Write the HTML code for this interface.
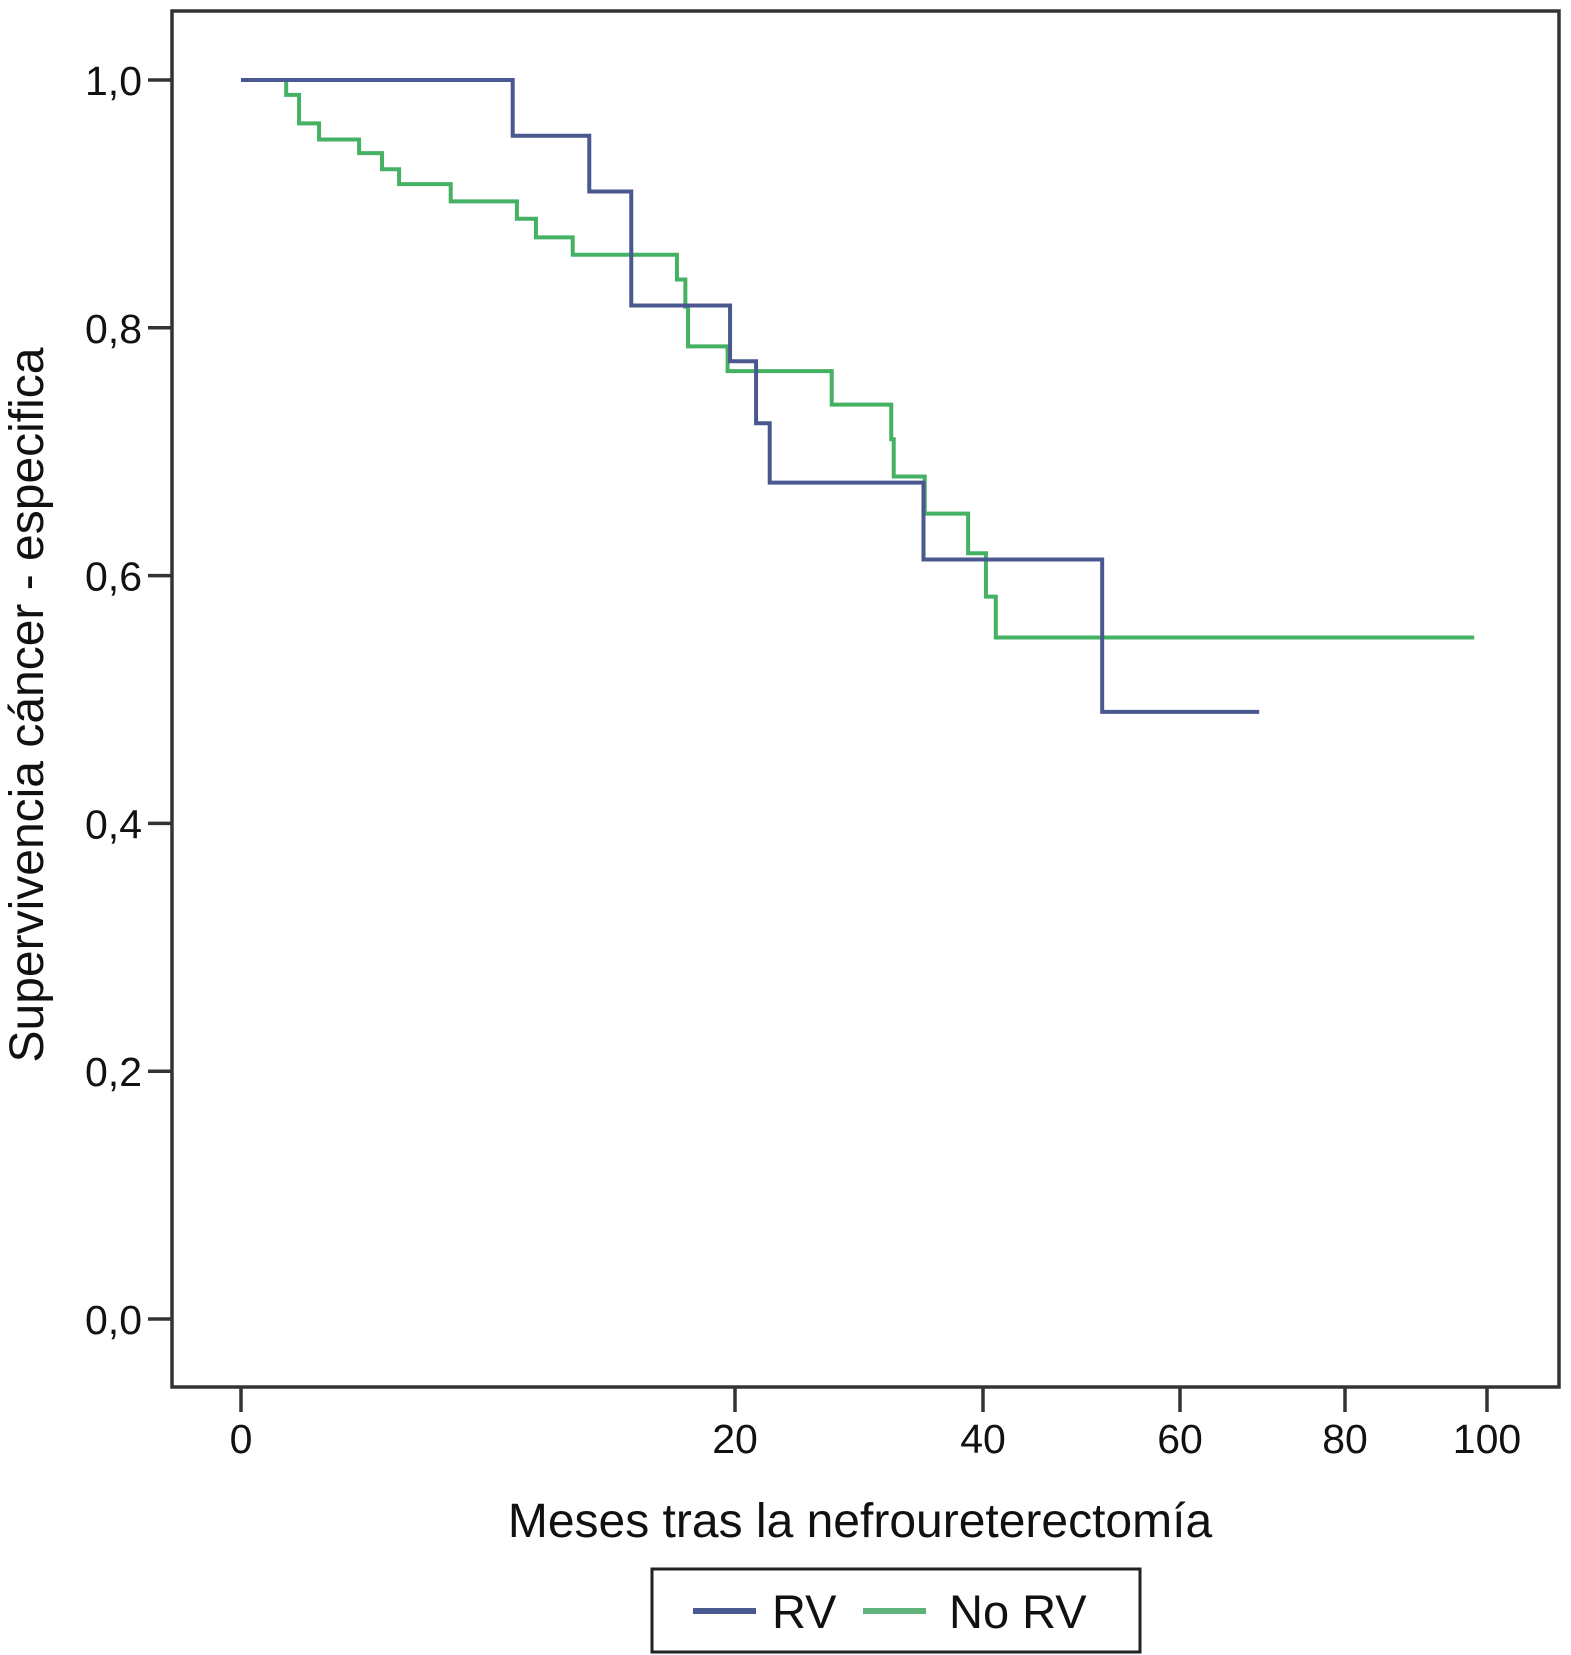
<!DOCTYPE html>
<html><head><meta charset="utf-8"><style>
html,body{margin:0;padding:0;background:#fff;}
svg{display:block;font-family:"Liberation Sans",sans-serif;}
</style></head><body>
<svg id="chart" width="1571" height="1655" viewBox="0 0 1571 1655">
<rect x="172" y="11" width="1387" height="1376" fill="#fff" stroke="#333" stroke-width="3.5"/>
<g id="yaxis"></g>
<g id="xaxis"></g>
<g id="series"></g>
<text x="43" y="705" font-size="48" text-anchor="middle" transform="rotate(-90 43 705)" fill="#111">Supervivencia cáncer - especifica</text>
<text x="860" y="1537" font-size="48" text-anchor="middle" fill="#111">Meses tras la nefroureterectomía</text>
<g>
<rect x="652" y="1569" width="488" height="83" fill="#fff" stroke="#222" stroke-width="3"/>
<line x1="693" y1="1611" x2="756" y2="1611" stroke="#4a5890" stroke-width="6"/>
<text x="772" y="1628" font-size="47" fill="#111">RV</text>
<line x1="863" y1="1611" x2="926" y2="1611" stroke="#5fb37a" stroke-width="6"/>
<text x="949" y="1628" font-size="47" fill="#111">No RV</text>
</g>
</svg>
<script>
const xTicks = [0, 20, 40, 60, 80, 100];
const yTicks = [0, 0.2, 0.4, 0.6, 0.8, 1.0];
const yTickLabels = ["0,0", "0,2", "0,4", "0,6", "0,8", "1,0"];
const rvTimes = [11.0, 14.1, 15.8, 19.8, 21.7, 22.8, 35.2, 52.1];
const rvValues = [0.955, 0.91, 0.818, 0.773, 0.723, 0.675, 0.613, 0.49];
const rvEnd = 69.6;
const noRvTimes = [1.83, 2.35, 3.16, 4.78, 5.71, 6.4, 8.49, 11.17, 11.94, 13.43, 17.65, 17.99, 18.1, 19.7, 27.8, 32.6, 32.8, 35.3, 38.8, 40.3, 41.3];
const noRvValues = [0.988, 0.965, 0.952, 0.941, 0.928, 0.916, 0.902, 0.888, 0.873, 0.859, 0.839, 0.817, 0.785, 0.765, 0.738, 0.71, 0.68, 0.65, 0.618, 0.583, 0.55];
const noRvEnd = 98.2;

const NS = "http://www.w3.org/2000/svg";
const xPix = [241, 735, 983, 1180, 1345, 1487];
function xs(t){
  for (let i = 0; i < xTicks.length - 1; i++) {
    if (t <= xTicks[i+1] || i === xTicks.length - 2) {
      return xPix[i] + (t - xTicks[i]) / (xTicks[i+1] - xTicks[i]) * (xPix[i+1] - xPix[i]);
    }
  }
}
function ys(v){ return 1319 - v * 1239; }
function mk(tag, attrs, parent){
  const e = document.createElementNS(NS, tag);
  for (const k in attrs) e.setAttribute(k, attrs[k]);
  parent.appendChild(e);
  return e;
}
const ya = document.getElementById('yaxis');
yTicks.forEach((v, i) => {
  const l = mk('line', {x1: 148, x2: 172, y1: ys(v), y2: ys(v), stroke: '#333', 'stroke-width': 3.5}, ya);
  
  
  const t = mk('text', {x: 142, y: ys(v) + 15, 'font-size': 41, 'text-anchor': 'end', fill: '#111'}, ya);
  t.textContent = yTickLabels[i];
  
  
});
const xa = document.getElementById('xaxis');
xTicks.forEach(v => {
  const l = mk('line', {x1: xs(v), x2: xs(v), y1: 1387, y2: 1412, stroke: '#333', 'stroke-width': 3.5}, xa);
  
  
  const t = mk('text', {x: xs(v), y: 1453, 'font-size': 41, 'text-anchor': 'middle', fill: '#111'}, xa);
  t.textContent = String(v);
  
  
});
function stepPath(times, values, end){
  let d = 'M' + xs(0) + ' ' + ys(1);
  let cur = 1;
  times.forEach((t, i) => {
    d += ' L' + xs(t) + ' ' + ys(cur) + ' L' + xs(t) + ' ' + ys(values[i]);
    cur = values[i];
  });
  d += ' L' + xs(end) + ' ' + ys(cur);
  return d;
}
const sg = document.getElementById('series');
const g = mk('path', {d: stepPath(noRvTimes, noRvValues, noRvEnd), fill: 'none', stroke: '#45b163', 'stroke-width': 4}, sg);


const b = mk('path', {d: stepPath(rvTimes, rvValues, rvEnd), fill: 'none', stroke: '#4a5890', 'stroke-width': 4}, sg);


</script>
</body></html>
